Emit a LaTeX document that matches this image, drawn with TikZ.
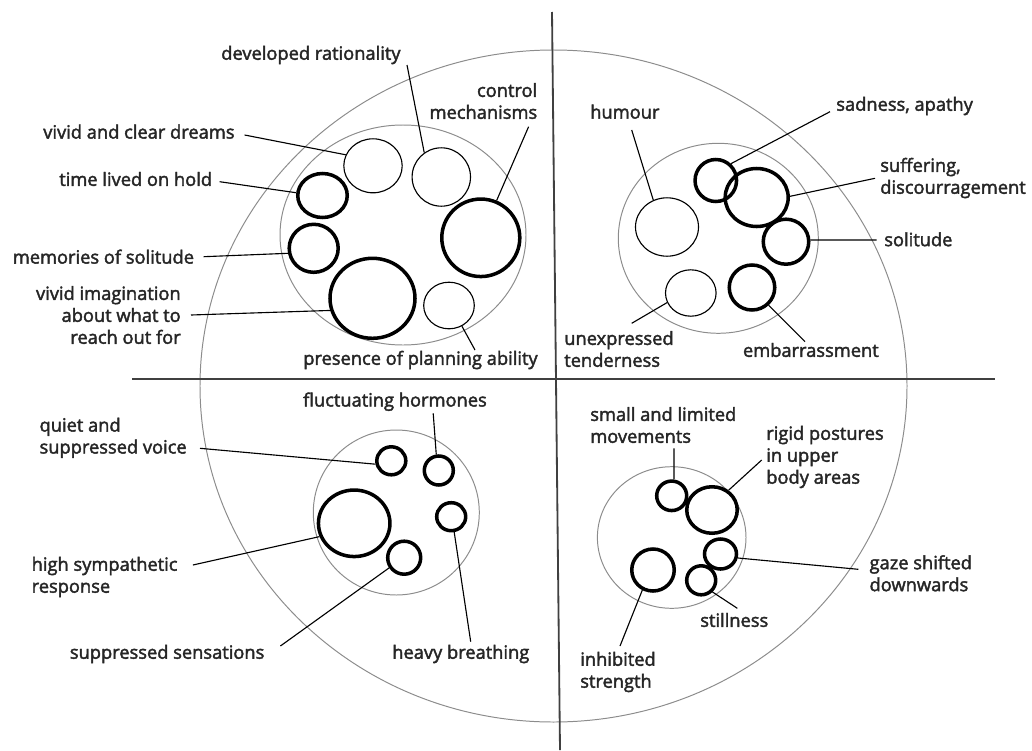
\documentclass[tikz,border=0pt]{standalone}
\usepackage{fontspec}
\setmainfont{Open Sans}
\newfontfamily\lblfont[FakeBold=2.2]{Open Sans}
\usetikzlibrary{shapes.geometric}

\begin{document}
\begin{tikzpicture}[
    x=0.025cm, y=-0.025cm,
    axis/.style={line width=1.3pt, draw=black!75},
    group/.style={ellipse, draw=black!45, line width=0.7pt, inner sep=0pt},
    feel/.style={ellipse, draw, line width=0.8pt, inner sep=0pt},
    strong/.style={ellipse, draw, line width=2.5pt, inner sep=0pt},
    dia/.style 2 args={minimum width=#1*0.025cm, minimum height=#2*0.025cm},
    leader/.style={line width=0.8pt},
    lbl/.style={font=\lblfont\fontsize{13}{15.6}\selectfont, text=black!85, inner sep=0pt, align=left, anchor=west}
  ]
    \useasboundingbox (0,0) rectangle (1032,750);

    % Outer circle and axes
    \node[group, dia={707}{672}] (whole) at (553.5,386) {};
    \coordinate (top) at (552,12);
    \coordinate (bottom) at (560,750);
    \coordinate (left) at (132,379);
    \coordinate (right) at (995,379);
    \draw[axis] (top) -- (bottom);
    \draw[axis] (left) -- (right);

    % Groups
    \foreach \n/\x/\y/\w/\h in {mind/403/235/246/220, heart/718.3/238.3/200/190,
                                body/396.3/512.5/166/165, move/671.7/537.5/148.6/141.6}
      \node[group, dia={\w}{\h}] (g-\n) at (\x,\y) {};

    % Light bubbles
    \foreach \n/\x/\y/\w/\h in {dreams/373/165.8/58.4/54, reason/441.3/177/58.4/58.4,
                                plan/449/305.5/50.6/46.6, humour/667/227/63/58.4,
                                tender/690.8/293/50.6/46.4}
      \node[feel, dia={\w}{\h}] (c-\n) at (\x,\y) {};

    % Strong bubbles
    \foreach \n/\x/\y/\w/\h in {hold/322.5/195.5/49.5/44, memory/313.7/248.3/49/48,
                                control/480.8/237.8/78/77.5, imagine/372.5/298.3/85/80,
                                sad/715.8/180.5/41.5/42, suffer/756.7/197.5/63/58,
                                alone/786/241.7/45.5/45, shame/752/287.5/45.5/45,
                                voice/391.3/460.8/29/28, hormone/438.8/470.5/29/29,
                                sympath/354.2/523.3/71.5/66.5, breath/451.2/516.7/29/28,
                                sense/404.2/557.7/33/33, small/671.7/495.8/30/29.5,
                                rigid/712/510/50.5/46.5, gaze/720.5/554/32/30,
                                still/701.2/580.3/29/29, inhibit/653/570/42.5/42}
      \node[strong, dia={\w}{\h}] (c-\n) at (\x,\y) {};

    % Labels
    \node[lbl] (t-reason) at (221,55) {developed rationality};
    \node[lbl, align=right, anchor=east] (t-control) at (537.5,101) {control\\mechanisms};
    \node[lbl] (t-dreams) at (43,131.7) {vivid and clear dreams};
    \node[lbl] (t-hold) at (59,179) {time lived on hold};
    \node[lbl] (t-memory) at (12.5,256.7) {memories of solitude};
    \node[lbl, align=right, anchor=east] (t-imagine) at (181,315) {vivid imagination\\about what to\\reach out for};
    \node[lbl] (t-plan) at (303,360) {presence of planning ability};
    \node[lbl] (t-humour) at (590,111.7) {humour};
    \node[lbl] (t-sad) at (836,106) {sadness, apathy};
    \node[lbl] (t-suffer) at (880,178) {suffering,\\discourragement};
    \node[lbl] (t-alone) at (884,239.3) {solitude};
    \node[lbl] (t-tender) at (564,349) {unexpressed\\tenderness};
    \node[lbl] (t-shame) at (742.7,350) {embarrassment};
    \node[lbl] (t-hormone) at (302.9,401.7) {fluctuating hormones};
    \node[lbl] (t-voice) at (39.3,437.8) {quiet and\\suppressed voice};
    \node[lbl] (t-sympath) at (31.4,577) {high sympathetic\\response};
    \node[lbl] (t-sense) at (69.6,654) {suppressed sensations};
    \node[lbl] (t-breath) at (392,654) {heavy breathing};
    \node[lbl] (t-small) at (590,425) {small and limited\\movements};
    \node[lbl] (t-rigid) at (766,457) {rigid postures\\in upper\\body areas};
    \node[lbl] (t-gaze) at (869.3,573.3) {gaze shifted\\downwards};
    \node[lbl] (t-still) at (700,620) {stillness};
    \node[lbl] (t-inhibit) at (580,672) {inhibited\\strength};

    % Leader ends next to the labels
    \foreach \n/\x/\y in {reason/407/65, control/528.6/126.7, dreams/244.6/135,
                          hold/219.6/181.7, memory/203.6/256.7, imagine/191/315,
                          plan/475/350, humour/631.7/130, sad/830/111.7,
                          suffer/875/178.3, alone/876.7/240, tender/631.7/323.3,
                          shame/805/341.7, hormone/433.2/413.3, voice/200/448.3,
                          sympath/192.9/565, sense/280.4/646, breath/470.7/641.7,
                          small/674/448.3, rigid/761.7/460, gaze/858.3/569.3,
                          still/737.3/608.3, inhibit/620/646}
      \coordinate (p-\n) at (\x,\y);

    % Leaders
    \foreach \n/\a in {reason/125, control/67, dreams/158, hold/174, memory/191,
                       imagine/196, plan/302, humour/117, sad/48, suffer/2,
                       alone/4, tender/202, shame/313, hormone/99, voice/192,
                       sympath/201, sense/214, breath/281, small/82, rigid/50,
                       gaze/347, still/314, inhibit/242}
      \draw[leader] (p-\n) -- (c-\n.\a);
  \end{tikzpicture}
\end{document}
